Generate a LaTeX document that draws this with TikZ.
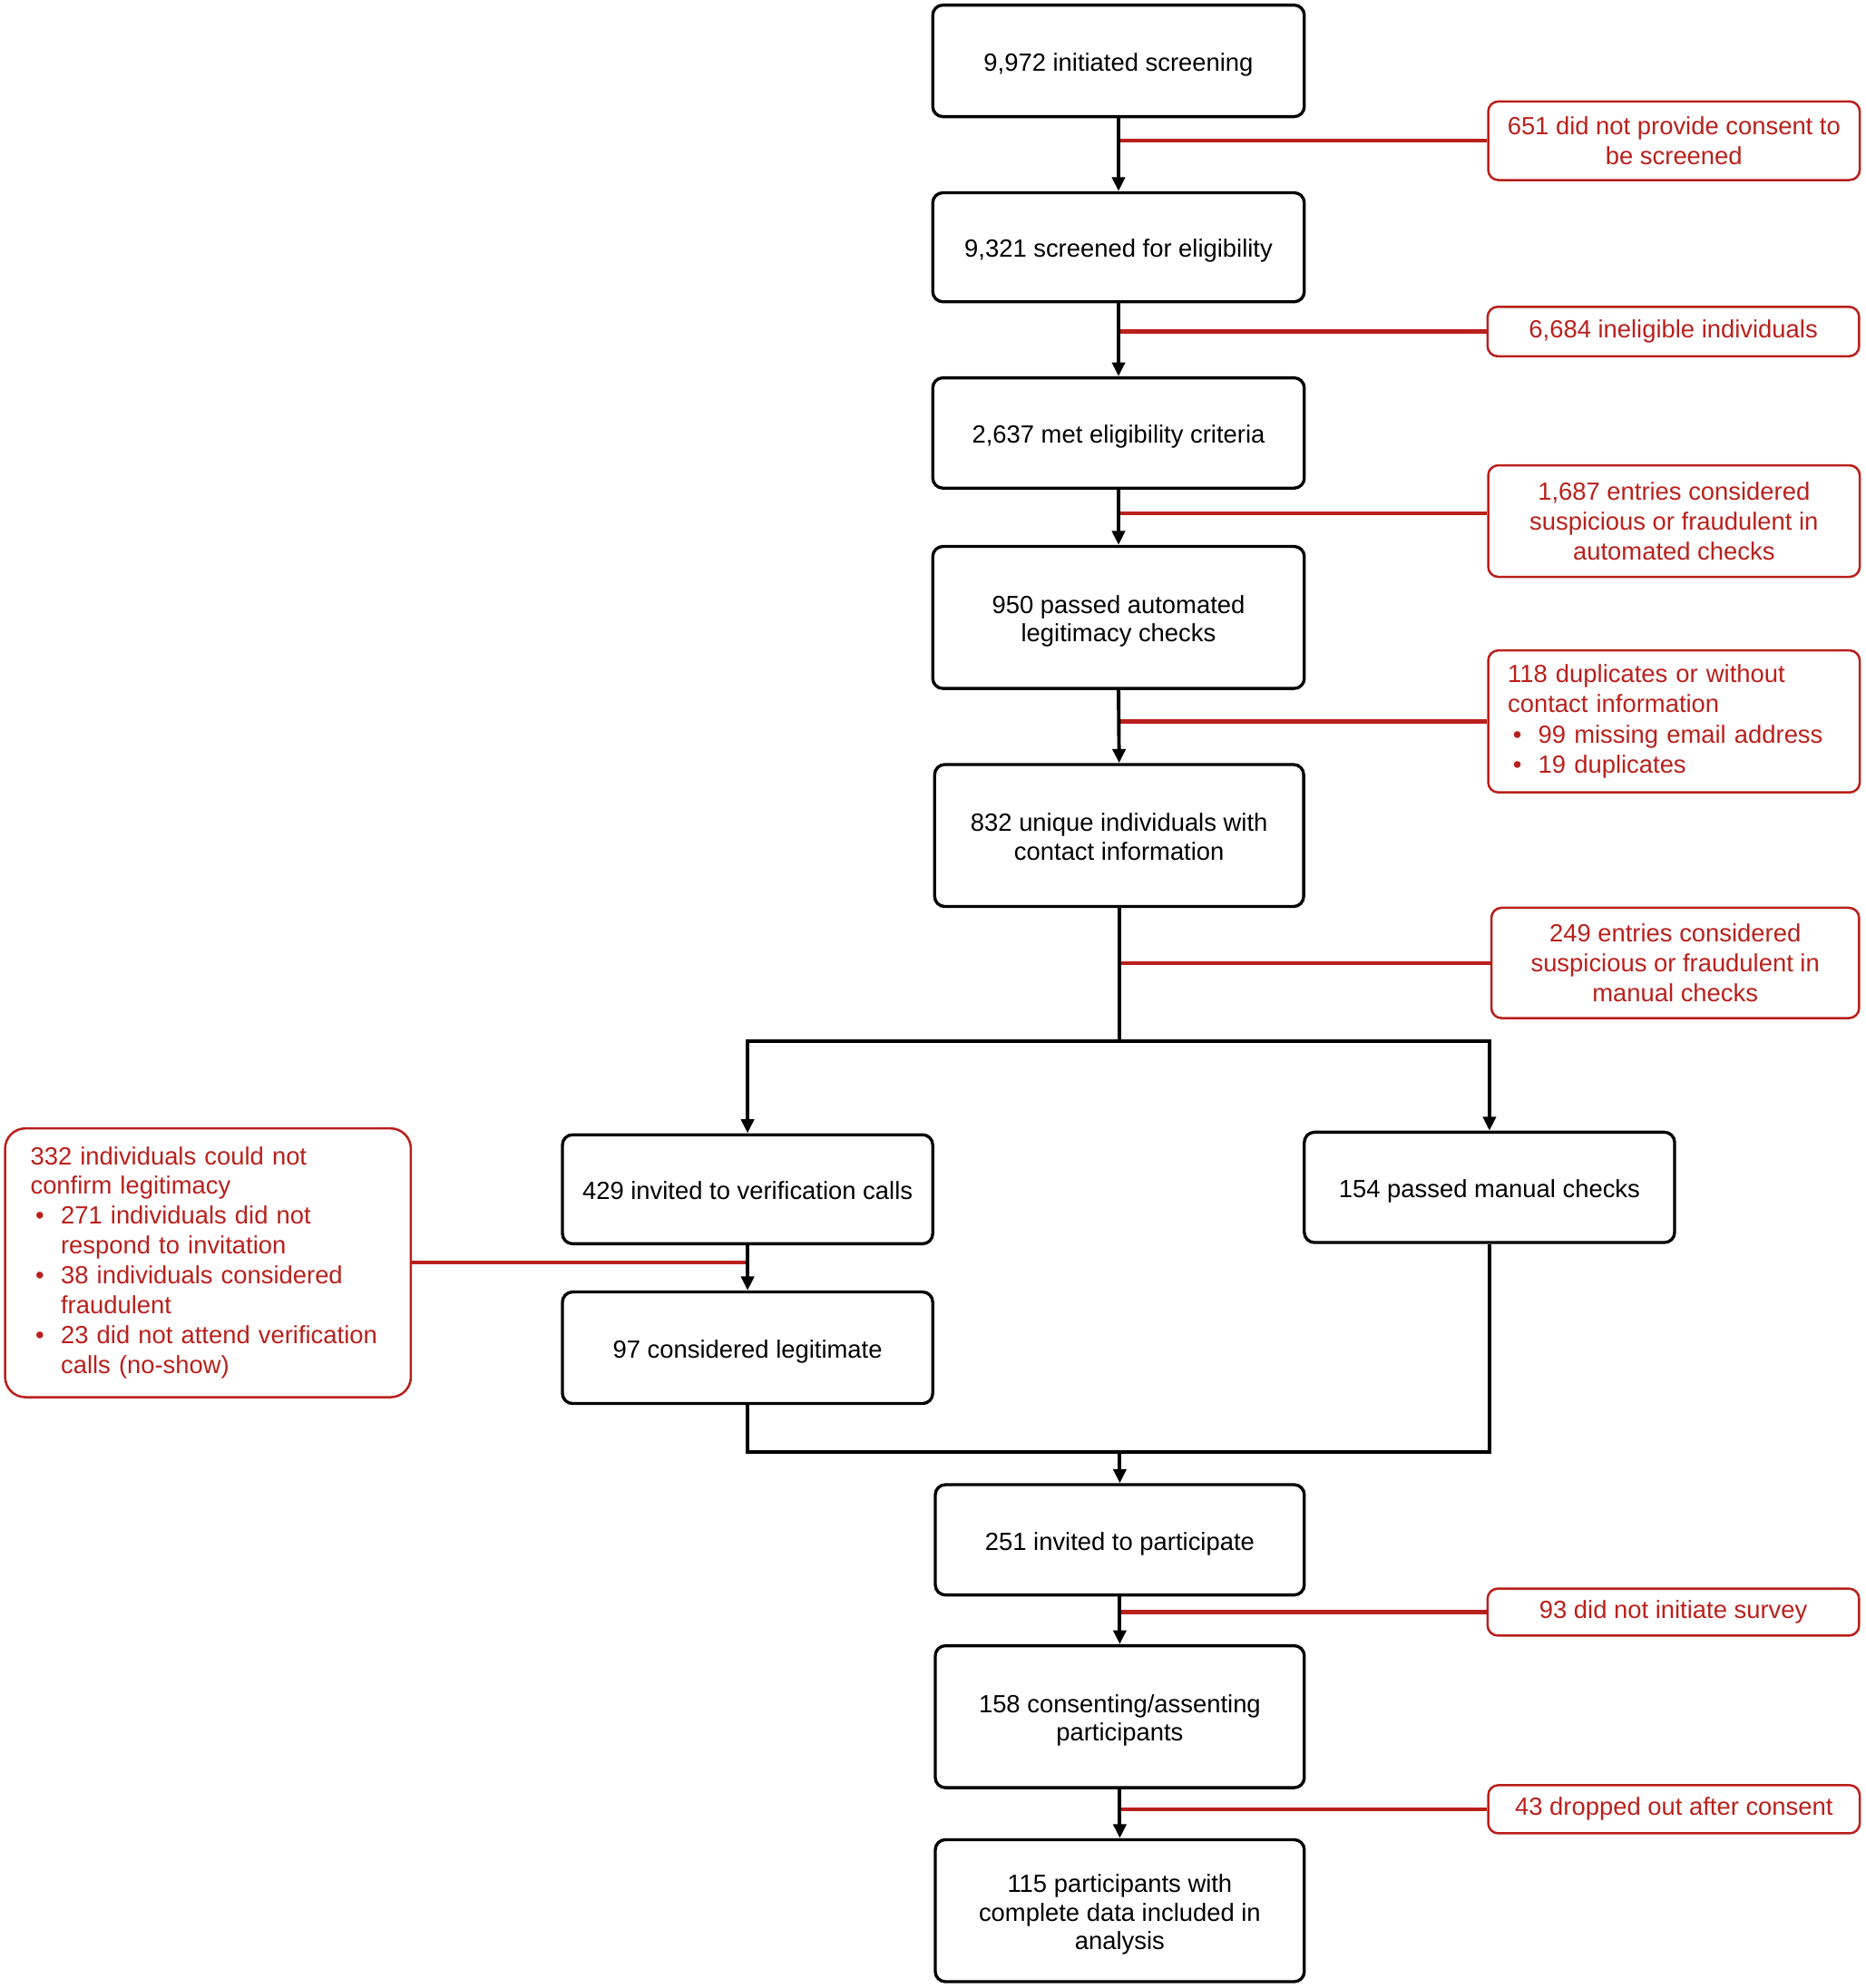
\documentclass[tikz,border=0pt]{standalone}
\usepackage{fontspec}
\setmainfont{Liberation Sans}
\usetikzlibrary{arrows.meta}
\definecolor{myred}{RGB}{185,32,28}
\newcommand\mybul{\hspace*{2pt}\makebox[10pt][l]{•}}
\newcommand\myind{\hspace*{12pt}}
\begin{document}
\begin{tikzpicture}[x=0.5pt,y=-0.5pt,
  every node/.style={font=\fontsize{9.8}{11.7}\selectfont},
  blk/.style={draw=black, line width=1.2pt, rounded corners=4pt, align=center, minimum width=146.5pt, inner sep=2pt,
    font=\fontsize{9.8}{11.3}\selectfont,
    execute at begin node={\rule{0pt}{10.2pt}}, execute at end node={\rule[-2.1pt]{0pt}{2.1pt}}},
  mltwo/.style={execute at begin node={\rule{0pt}{21.5pt}}},
  mlthree/.style={execute at begin node={\rule{0pt}{32.8pt}}},
  rbox/.style={draw=myred, line width=0.9pt, rounded corners=4pt, text=myred, align=center, minimum width=146.5pt, inner sep=2pt},
  conn/.style={draw=black, line width=1.4pt},
  arr/.style={conn, -{Triangle[length=5.5pt,width=5pt]}},
  rline/.style={draw=myred, line width=1.5pt}]
\useasboundingbox (0,0) rectangle (1471,1568);

% main boxes
\node[blk, minimum height=44pt] (n1) at (882,48) {9,972 initiated screening};
\node[blk, minimum height=43pt] (n2) at (882,195) {9,321 screened for eligibility};
\node[blk, minimum height=43.5pt] (n3) at (882,341.5) {2,637 met eligibility criteria};
\node[blk, mltwo, minimum height=56pt] (n4) at (882,487) {950 passed automated\\legitimacy checks};
\node[blk, mltwo, minimum width=145.5pt, minimum height=56pt] (n5) at (882.5,659) {832 unique individuals with\\contact information};
\node[blk, minimum width=146pt, minimum height=43pt] (n6) at (589.5,938) {429 invited to verification calls};
\node[blk, minimum width=146pt, minimum height=43.5pt] (n7) at (1174.5,936.5) {154 passed manual checks};
\node[blk, minimum width=146pt, minimum height=44pt] (n8) at (589.5,1063) {97 considered legitimate};
\node[blk, minimum width=145.5pt, minimum height=43.5pt] (n9) at (883,1214.5) {251 invited to participate};
\node[blk, mltwo, minimum width=145.5pt, minimum height=56pt] (n10) at (883,1354) {158 consenting/assenting\\participants};
\node[blk, mlthree, minimum width=145.5pt, minimum height=56pt] (n11) at (883,1507) {115 participants with\\complete data included in\\analysis};

% red boxes
\node[rbox, minimum height=31pt] (r1) at (1320,111) {651 did not provide consent to\\be screened};
\node[rbox, minimum height=19.5pt] (r2) at (1319.5,261.5) {6,684 ineligible individuals};
\node[rbox, minimum height=44pt] (r3) at (1320,411) {1,687 entries considered\\suspicious or fraudulent in\\automated checks};
\node[rbox, minimum height=56pt, align=left, text width=131pt, inner xsep=7.5pt, font=\fontsize{9.8}{12}\selectfont] (r4) at (1320,569)
  {118 duplicates or without\\contact information\\\mybul 99 missing email address\\\mybul 19 duplicates};
\node[rbox, minimum width=145pt, minimum height=43.5pt] (r5) at (1321,759.5) {249 entries considered\\suspicious or fraudulent in\\manual checks};
\node[rbox, rounded corners=8pt, minimum height=106pt, align=left, text width=140pt, inner xsep=10pt, font=\fontsize{9.8}{11.8}\selectfont] (r6) at (164,996)
  {332 individuals could not\\confirm legitimacy\\\mybul 271 individuals did not\\\myind respond to invitation\\\mybul 38 individuals considered\\\myind fraudulent\\\mybul 23 did not attend verification\\\myind calls (no-show)};
\node[rbox, minimum height=18.5pt] (r7) at (1319.5,1271.5) {93 did not initiate survey};
\node[rbox, minimum height=19pt] (r8) at (1320,1427) {43 dropped out after consent};

% junction coordinates
\coordinate (j3) at (882,405);
\coordinate (b1) at (882.5,821);
\coordinate (m1) at (883,1145);

% red connectors
\draw[rline] (r1.west) -- (r1.west -| n1.south);
\draw[rline] (r2.west) -- (r2.west -| n2.south);
\draw[rline] (j3 -| r3.west) -- (j3);
\draw[rline] (r4.west) -- (r4.west -| n4.south);
\draw[rline] (r5.west) -- (r5.west -| n5.south);
\draw[rline] (r6.east) -- (r6.east -| n6.south);
\draw[rline] (r7.west) -- (r7.west -| n9.south);
\draw[rline] (r8.west) -- (r8.west -| n10.south);

% black connectors
\draw[arr] (n1.south) -- (n2.north);
\draw[arr] (n2.south) -- (n3.north);
\draw[arr] (n3.south) -- (n4.north);
\draw[arr] (n4.south) -- (n5.north);
\draw[conn] (n5.south) -- (b1);
\draw[arr] (b1) -| (n6.north);
\draw[arr] (b1) -| (n7.north);
\draw[arr] (n6.south) -- (n8.north);
\draw[conn] (n8.south) |- (m1);
\draw[conn] (n7.south) |- (m1);
\draw[arr] (m1) -- (n9.north);
\draw[arr] (n9.south) -- (n10.north);
\draw[arr] (n10.south) -- (n11.north);
\end{tikzpicture}
\end{document}
